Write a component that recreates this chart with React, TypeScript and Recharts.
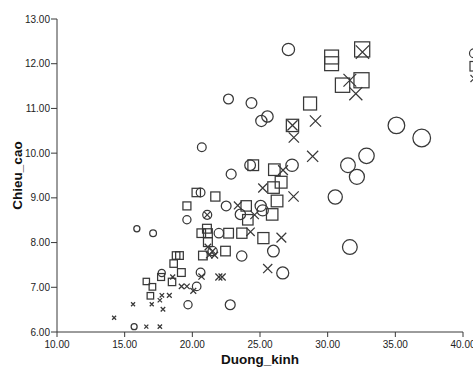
import { Legend, Scatter, ScatterChart, XAxis, YAxis } from 'recharts'

const xTicks = [10, 15, 20, 25, 30, 35, 40]
const yTicks = [6, 7, 8, 9, 10, 11, 12, 13]
const groupNames = ['1.00', '2.00', '3.00']

// nhóm 1 – vòng tròn
const group1 = [
	{ x: 27.1, y: 12.32 },
	{ x: 22.67, y: 11.21 },
	{ x: 24.37, y: 11.12 },
	{ x: 25.55, y: 10.82 },
	{ x: 25.1, y: 10.72 },
	{ x: 20.7, y: 10.13 },
	{ x: 22.87, y: 9.53 },
	{ x: 27.37, y: 9.73 },
	{ x: 24.27, y: 9.73 },
	{ x: 35.08, y: 10.62 },
	{ x: 36.95, y: 10.34 },
	{ x: 32.87, y: 9.94 },
	{ x: 31.5, y: 9.73 },
	{ x: 32.16, y: 9.47 },
	{ x: 30.56, y: 9.02 },
	{ x: 31.64, y: 7.9 },
	{ x: 20.61, y: 9.12 },
	{ x: 22.5, y: 8.82 },
	{ x: 19.6, y: 8.51 },
	{ x: 17.1, y: 8.21 },
	{ x: 15.9, y: 8.31 },
	{ x: 21.1, y: 8.62 },
	{ x: 21.96, y: 8.21 },
	{ x: 23.55, y: 8.63 },
	{ x: 25.05, y: 8.82 },
	{ x: 25.2, y: 8.72 },
	{ x: 25.99, y: 7.81 },
	{ x: 23.65, y: 7.7 },
	{ x: 21.5, y: 7.81 },
	{ x: 26.68, y: 7.32 },
	{ x: 20.61, y: 7.33 },
	{ x: 20.32, y: 7.02 },
	{ x: 19.68, y: 6.61 },
	{ x: 22.8, y: 6.61 },
	{ x: 17.74, y: 7.32 },
	{ x: 15.7, y: 6.12 },
]

// nhóm 2 – hình vuông
const group2 = [
	{ x: 32.55, y: 12.32 },
	{ x: 30.29, y: 12.15 },
	{ x: 30.29, y: 12.0 },
	{ x: 31.1, y: 11.52 },
	{ x: 32.5, y: 11.63 },
	{ x: 28.7, y: 11.11 },
	{ x: 27.4, y: 10.62 },
	{ x: 24.5, y: 9.73 },
	{ x: 26.06, y: 9.63 },
	{ x: 26.56, y: 9.35 },
	{ x: 26.0, y: 9.23 },
	{ x: 26.26, y: 8.93 },
	{ x: 21.7, y: 9.03 },
	{ x: 23.98, y: 8.82 },
	{ x: 20.29, y: 9.12 },
	{ x: 19.6, y: 8.82 },
	{ x: 25.9, y: 8.63 },
	{ x: 24.1, y: 8.51 },
	{ x: 21.08, y: 8.31 },
	{ x: 20.66, y: 8.21 },
	{ x: 21.15, y: 8.21 },
	{ x: 22.68, y: 8.21 },
	{ x: 23.66, y: 8.21 },
	{ x: 25.25, y: 8.1 },
	{ x: 21.15, y: 8.01 },
	{ x: 20.78, y: 7.71 },
	{ x: 22.45, y: 7.81 },
	{ x: 18.8, y: 7.71 },
	{ x: 19.05, y: 7.71 },
	{ x: 18.62, y: 7.53 },
	{ x: 19.19, y: 7.33 },
	{ x: 17.69, y: 7.23 },
	{ x: 18.5, y: 7.12 },
	{ x: 17.05, y: 7.01 },
	{ x: 16.6, y: 7.13 },
	{ x: 16.9, y: 6.81 },
]

// nhóm 3 – dấu chéo
const group3 = [
	{ x: 32.57, y: 12.26 },
	{ x: 31.64, y: 11.63 },
	{ x: 32.08, y: 11.33 },
	{ x: 29.1, y: 10.72 },
	{ x: 27.4, y: 10.62 },
	{ x: 27.5, y: 10.35 },
	{ x: 28.89, y: 9.93 },
	{ x: 26.7, y: 9.62 },
	{ x: 25.2, y: 9.22 },
	{ x: 27.48, y: 9.03 },
	{ x: 23.36, y: 8.83 },
	{ x: 24.6, y: 8.62 },
	{ x: 24.3, y: 8.24 },
	{ x: 26.58, y: 8.11 },
	{ x: 25.57, y: 7.42 },
	{ x: 21.15, y: 7.9 },
	{ x: 21.25, y: 7.72 },
	{ x: 21.65, y: 7.72 },
	{ x: 21.1, y: 8.62 },
	{ x: 21.5, y: 7.81 },
	{ x: 21.96, y: 7.23 },
	{ x: 22.2, y: 7.23 },
	{ x: 20.68, y: 7.24 },
	{ x: 18.55, y: 7.23 },
	{ x: 19.2, y: 7.02 },
	{ x: 19.6, y: 7.02 },
	{ x: 20.07, y: 6.92 },
	{ x: 17.75, y: 6.82 },
	{ x: 18.3, y: 6.82 },
	{ x: 17.6, y: 6.71 },
	{ x: 17.0, y: 6.62 },
	{ x: 17.83, y: 6.51 },
	{ x: 17.6, y: 6.12 },
	{ x: 16.6, y: 6.12 },
	{ x: 14.22, y: 6.32 },
	{ x: 15.62, y: 6.62 },
]

const INK = '#383838'
const FONT = "'Liberation Sans', Arial, sans-serif"
const fmt = (v: number) => v.toFixed(2)

// marker size grows with Duong_kinh
const CircleMark = (props: any) => {
	const { cx, cy, payload } = props
	const r = (6 + 0.55 * (payload.x - 15.7)) / 2
	return <circle cx={cx} cy={cy} r={r} fill='none' stroke={INK} strokeWidth={1.25} />
}

const SquareMark = (props: any) => {
	const { cx, cy, payload } = props
	const s = Math.max(5.5, 6 + 0.55 * (payload.x - 16))
	return (
		<rect x={cx - s / 2} y={cy - s / 2} width={s} height={s} fill='none' stroke={INK} strokeWidth={1.25} />
	)
}

const CrossMark = (props: any) => {
	const { cx, cy, payload } = props
	const h = Math.max(4, 4 + 0.6 * (payload.x - 17)) / 2
	return (
		<path
			d={`M${cx - h},${cy - h}L${cx + h},${cy + h}M${cx - h},${cy + h}L${cx + h},${cy - h}`}
			stroke={INK}
			strokeWidth={1.25}
			fill='none'
		/>
	)
}

const legendIcon = (type: string) => {
	if (type === 'square') return <rect x={3} y={1.5} width={9.5} height={9.5} fill='none' stroke={INK} strokeWidth={1.2} />
	if (type === 'cross') return <path d='M3.5,3L10.5,10M3.5,10L10.5,3' stroke={INK} strokeWidth={1.2} />
	return <circle cx={7} cy={6.25} r={4.5} fill='none' stroke={INK} strokeWidth={1.2} />
}

// legend column sits at the right edge; only the symbols fall inside the frame
const LegendBox = ({ payload }: any) => (
	<div>
		{(payload || []).map((entry: any, i: number) => (
			<svg key={i} width={14} height={12.5} style={{ display: 'block' }}>
				<title>{entry.value}</title>
				{legendIcon(entry.type)}
			</svg>
		))}
	</div>
)

const XTitle = ({ viewBox }: any) => (
	<text
		x={viewBox.x + viewBox.width / 2}
		y={viewBox.y + viewBox.height + 2.3}
		textAnchor='middle'
		fontFamily={FONT}
		fontSize={13.5}
		fontWeight={700}
		fill='#111'
	>
		Duong_kinh
	</text>
)

const YTitle = ({ viewBox }: any) => {
	const cy = viewBox.y + viewBox.height / 2
	return (
		<text
			x={21.5}
			y={cy}
			transform={`rotate(-90, 21.5, ${cy})`}
			textAnchor='middle'
			fontFamily={FONT}
			fontSize={13.5}
			fontWeight={700}
			fill='#111'
		>
			Chieu_cao
		</text>
	)
}

const tickStyle = { fontSize: 10, fill: '#222', fontFamily: FONT }

const App = () => {
	return (
		<div style={{ position: 'absolute', left: 0, top: 0, width: 473, height: 367, overflow: 'hidden', background: '#fff' }}>
			<ScatterChart width={560} height={367} margin={{ top: 19, right: 97, bottom: 5, left: 7 }}>
				<XAxis
					type='number'
					dataKey='x'
					domain={[10, 40]}
					ticks={xTicks}
					interval={0}
					tickFormatter={fmt}
					tickSize={5}
					tickMargin={4}
					height={30}
					axisLine={{ stroke: INK }}
					tickLine={{ stroke: INK }}
					tick={tickStyle}
					label={{ content: XTitle }}
				/>
				<YAxis
					type='number'
					dataKey='y'
					domain={[6, 13]}
					ticks={yTicks}
					interval={0}
					tickFormatter={fmt}
					tickSize={6}
					tickMargin={1}
					width={50}
					axisLine={{ stroke: INK }}
					tickLine={{ stroke: INK }}
					tick={tickStyle}
					label={{ content: YTitle }}
				/>
				<Legend
					layout='horizontal'
					align='center'
					verticalAlign='middle'
					width={20}
					wrapperStyle={{ left: 467, top: 47 }}
					content={LegendBox}
				/>
				<Scatter name={groupNames[0]} data={group1} legendType='circle' shape={CircleMark} isAnimationActive={false} />
				<Scatter name={groupNames[1]} data={group2} legendType='square' shape={SquareMark} isAnimationActive={false} />
				<Scatter name={groupNames[2]} data={group3} legendType='cross' shape={CrossMark} isAnimationActive={false} />
			</ScatterChart>
		</div>
	)
}

export default App
